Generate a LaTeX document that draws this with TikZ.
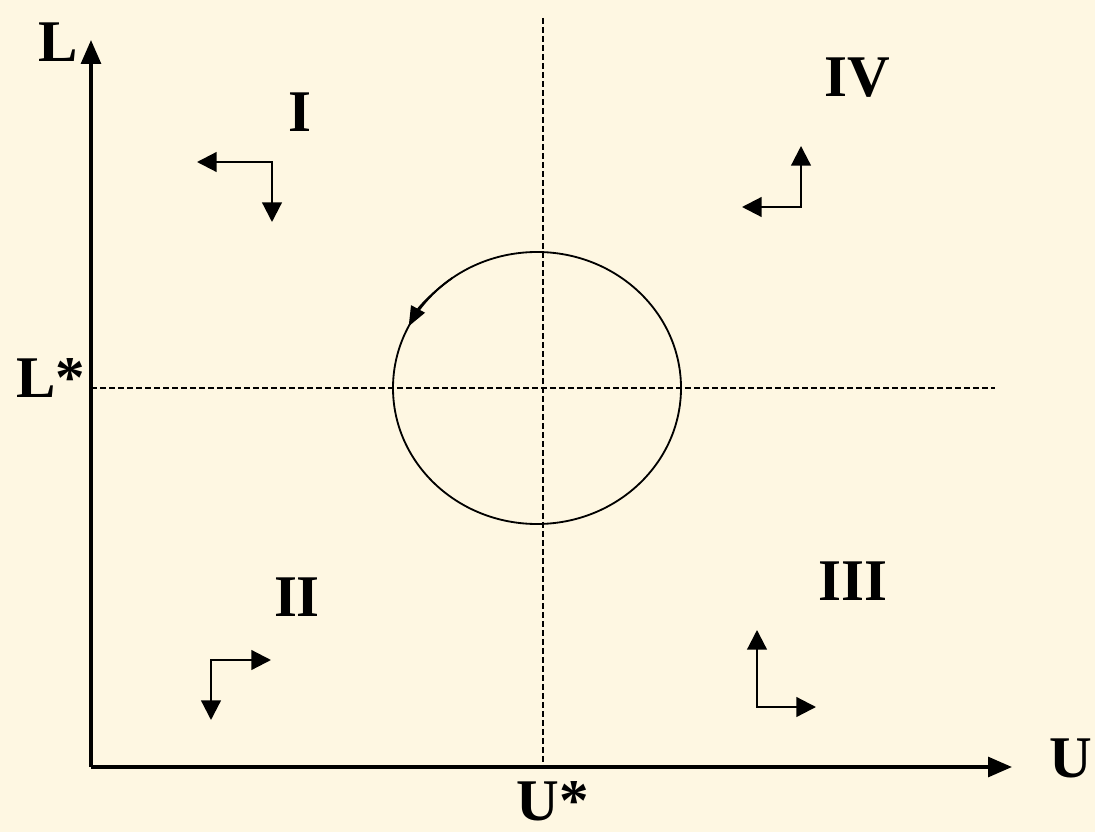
\documentclass[tikz,border=0pt]{standalone}
\usepackage{fontspec}
\setmainfont{Liberation Serif}
\usetikzlibrary{arrows.meta}
\definecolor{papel}{RGB}{254,247,226}
\tikzset{
  rotulo/.style={font=\bfseries\fontsize{42}{46}\selectfont, inner sep=0pt},
  eixo/.style={line width=2.6pt, -{Triangle[length=17pt, width=14pt]}},
  guia/.style={line width=0.8pt, dash pattern=on 4pt off 2.4pt},
  seta/.style={line width=1.6pt, {Triangle[length=14pt, width=14pt]}-{Triangle[length=14pt, width=14pt]}},
}

\begin{document}
\begin{tikzpicture}[x=0.025cm, y=-0.025cm]
        % Fundo
        \fill[papel] (0,0) rectangle (1095,832);
        % Pontos principais
        \coordinate (O) at (91,767);
        \coordinate (Ltopo) at (91,40);
        \coordinate (Ufim) at (1012,767);
        \coordinate (C) at (537,388);
        \coordinate (Vtopo) at (543,18);
        \coordinate (Vbase) at (543,767);
        \coordinate (Hini) at (91,388);
        \coordinate (Hfim) at (995,388);
        % Linhas de equilibrio (tracejadas)
        \draw[guia] (Vtopo) -- (Vbase);
        \draw[guia] (Hini) -- (Hfim);
        % Eixos
        \draw[eixo] (O) -- (Ltopo);
        \draw[eixo] (O) -- (Ufim);
        \node[rotulo] (L) at (58,42) {L};
        \node[rotulo] (Lest) at (51,378) {L*};
        \node[rotulo] (U) at (1071,758) {U};
        \node[rotulo] (Uest) at (553,801) {U*};
        % Ciclo
        \draw[line width=1.3pt] (C) ellipse [x radius=144, y radius=136];
        \draw[line width=1.3pt, -{Triangle[length=14pt, width=11pt]}] (C) ++(-126:144 and 136) arc[start angle=-126, end angle=-153, x radius=144, y radius=136];
        % Quadrantes
        \node[rotulo] (q1) at (300,112) {I};
        \node[rotulo] (q2) at (297,597) {II};
        \node[rotulo] (q3) at (853,581) {III};
        \node[rotulo] (q4) at (857,78) {IV};
        % Setas de movimento
        \coordinate (a1) at (197,162); \coordinate (c1) at (272,162); \coordinate (b1) at (272,222);
        \coordinate (a2) at (211,720); \coordinate (c2) at (211,660); \coordinate (b2) at (271,660);
        \coordinate (a3) at (757,630); \coordinate (c3) at (757,707); \coordinate (b3) at (816,707);
        \coordinate (a4) at (742,207); \coordinate (c4) at (801,207); \coordinate (b4) at (801,146);
        \draw[seta] (a1) -- (c1) -- (b1);
        \draw[seta] (a2) -- (c2) -- (b2);
        \draw[seta] (a3) -- (c3) -- (b3);
        \draw[seta] (a4) -- (c4) -- (b4);
    \end{tikzpicture}
\end{document}
